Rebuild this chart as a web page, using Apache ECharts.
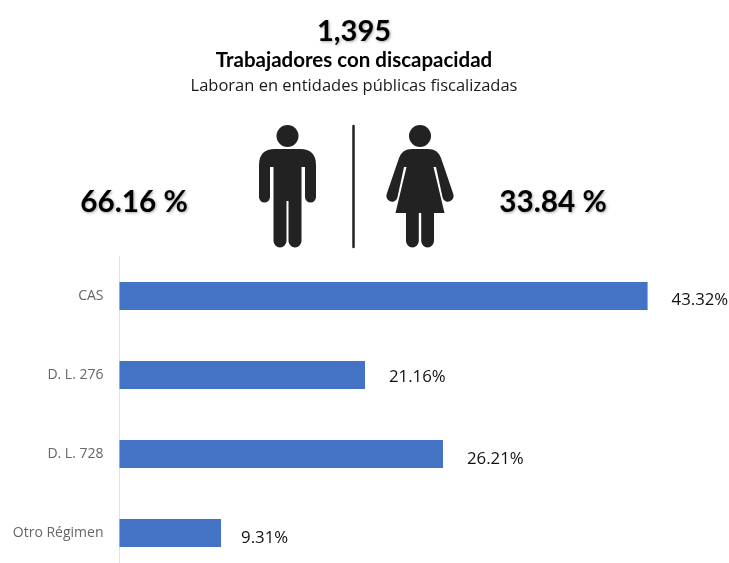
<!DOCTYPE html>
<html><head><meta charset="utf-8">
<style>html,body{margin:0;padding:0;background:#fff}#c{width:729px;height:563px}</style>
<script src="https://cdn.jsdelivr.net/npm/echarts@6/dist/echarts.min.js"></script>
</head><body><div id="c"></div>
<script>
const categories = ['CAS', 'D. L. 276', 'D. L. 728', 'Otro Régimen'];
const barLengths = [43.32, 20.14, 26.54, 8.33];
const valueLabels = ['43.32%', '21.16%', '26.21%', '9.31%'];
const totalText = '1,395';
const headline = 'Trabajadores con discapacidad';
const subhead = 'Laboran en entidades públicas fiscalizadas';
const menShare = '66.16 %';
const womenShare = '33.84 %';

const labelOffsets = [[0,4],[0,2],[0,5],[-4,5]];
const ink = '#222222';
const manPath = 'M259 165Q259 149 275 149L300 149Q316 149 316 165L316 197A5.5 5.5 0 0 1 305 197L305 167L301.5 167L301.5 241A6.5 6.5 0 0 1 288.5 241L288.5 201L286.5 201L286.5 241A6.5 6.5 0 0 1 273.5 241L273.5 167L270 167L270 197A5.5 5.5 0 0 1 259 197Z';
const womanPath = 'M399 158Q402 149 412 149L428 149Q438 149 441 158L453.3 194A5.5 5.5 0 0 1 442.7 198L436 167L433.5 167L444.5 213L434 213L434 241A6.4 6.4 0 0 1 421.2 241L421.2 213L418.8 213L418.8 241A6.4 6.4 0 0 1 406 241L406 213L395.5 213L406.5 167L404 167L397.3 198A5.5 5.5 0 0 1 386.7 194Z';
echarts.graphic.registerShape('manFigure', echarts.graphic.extendPath(manPath, {}));
echarts.graphic.registerShape('womanFigure', echarts.graphic.extendPath(womanPath, {}));

const chart = echarts.init(document.getElementById('c'), null, {renderer:'canvas'});
const sharedShadow = {textShadowColor:'rgba(0,0,0,0.35)', textShadowBlur:3, textShadowOffsetX:1, textShadowOffsetY:1};
function bigText(text, x, y, size){
  return {type:'text', x, y, style:Object.assign({text, fill:'#000', font:'bold '+size+'px Lato', align:'center', verticalAlign:'middle'}, sharedShadow)};
}
chart.setOption({
  animation:false,
  backgroundColor:'#ffffff',
  title:[
    {text:totalText, left:349, top:12, textAlign:'center', textStyle:Object.assign({fontFamily:'Lato', fontWeight:'bold', fontSize:29, color:'#000'}, sharedShadow)},
    {text:headline, left:349, top:45, textAlign:'center', textStyle:{fontFamily:'Lato', fontWeight:'bold', fontSize:20.5, color:'#000'}},
    {text:subhead, left:349, top:73, textAlign:'center', textStyle:{fontFamily:'Open Sans', fontWeight:'normal', fontSize:16.5, color:'#1a1a1a'}}
  ],
  grid:{left:119.5, top:256.5, width:609.5, height:316, outerBoundsMode:'none'},
  xAxis:{type:'value', min:0, max:50, show:false},
  yAxis:{type:'category', inverse:true, data:categories,
    axisLine:{show:true, lineStyle:{color:'#e2e2e2', width:1}},
    axisTick:{show:false},
    axisLabel:{color:'#666666', fontFamily:'Open Sans', fontSize:14, margin:16}},
  series:[{type:'bar', barWidth:28, itemStyle:{color:'#4472c4'},
    data:barLengths.map((v,i)=>({value:v, label:{offset:labelOffsets[i]}})),
    label:{show:true, position:'right', distance:24, color:'#111', fontFamily:'Open Sans', fontSize:16.8,
      formatter:p=>valueLabels[p.dataIndex]}}],
  graphic:[
    bigText(menShare, 134, 202, 29.7),
    bigText(womenShare, 553, 202, 29.7),
    {type:'circle', shape:{cx:287.5, cy:136, r:11}, style:{fill:ink}},
    {type:'circle', shape:{cx:420, cy:136, r:11}, style:{fill:ink}},
    {type:'manFigure', style:{fill:ink}},
    {type:'womanFigure', style:{fill:ink}},
    {type:'line', shape:{x1:353.5, y1:126, x2:353.5, y2:247}, style:{stroke:ink, lineWidth:2.5, lineCap:'round'}}
  ]
});
</script></body></html>
